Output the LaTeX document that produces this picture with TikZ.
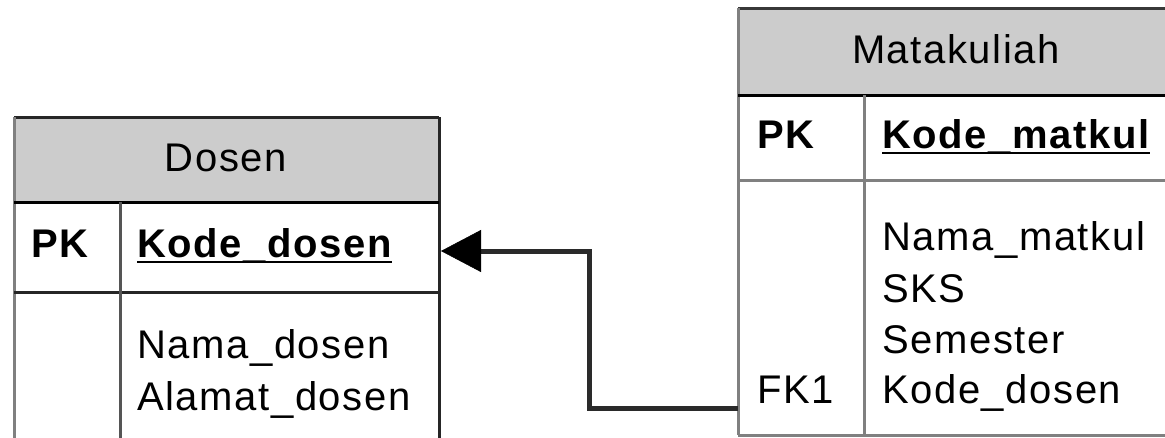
\documentclass[tikz,border=0pt]{standalone}
\usepackage{fontspec}
\setmainfont[LetterSpace=4]{Liberation Sans}
\usetikzlibrary{arrows.meta}
\definecolor{hdrfill}{HTML}{CCCCCC}
\definecolor{gline}{HTML}{808080}
\definecolor{dline}{HTML}{262626}
\definecolor{mline}{HTML}{555555}
\definecolor{connc}{HTML}{2A2A2A}
\begin{document}
\begin{tikzpicture}[x=1pt,y=-1pt,
  txt/.style={font=\fontsize{40}{48}\selectfont, inner sep=0pt, anchor=base west},
  btxt/.style={txt, font=\fontsize{40}{48}\selectfont\bfseries},
  htxt/.style={txt, anchor=base},
  hdr/.style={fill=hdrfill, draw=none, inner sep=0pt, anchor=north west},
  tline/.style={line width=3pt},
  conn/.style={line width=5pt, draw=connc, -{Triangle[length=40pt,width=42pt,color=black,fill=black,line width=0.5pt]}}]
\useasboundingbox (0,0) rectangle (1165,437);
\clip (0,0) rectangle (1165,437);
\fill[white] (0,0) rectangle (1165,437);

% ---------- Dosen table ----------
\node[hdr, minimum width=425pt, minimum height=85pt] (dosenH) at (14,117) {};
\node[htxt] (dosenT) at (226,171) {Dosen};
\coordinate (dTL) at (14,117);
\coordinate (dTR) at (439,117);
\coordinate (dBL) at (14,440);
\coordinate (dBR) at (439,440);
\draw[tline, dline] (dTL) -- (dTR);
\draw[tline, gline] (dTL) -- (dBL);
\draw[tline, dline] (dTR) -- (dBR);
\draw[tline, black] (14,202) -- (439,202);
\draw[tline, dline] (14,292) -- (439,292);
\draw[tline, mline] (120,202) -- (120,440);
\node[btxt] (dPK) at (31,257) {PK};
\node[btxt] (dKode) at (137,257) {Kode\_dosen};
\draw[line width=2pt] ([yshift=-5pt]dKode.base west) -- ([yshift=-5pt]dKode.base east);
\node[txt] (dNama) at (137,358) {Nama\_dosen};
\node[txt] (dAlamat) at (137,410) {Alamat\_dosen};

% ---------- Matakuliah table ----------
\node[hdr, minimum width=440pt, minimum height=87pt] (mkH) at (738,8) {};
\node[htxt] (mkT) at (956,63) {Matakuliah};
\coordinate (mTL) at (738,8);
\coordinate (mTR) at (1185,8);
\coordinate (mBL) at (738,435);
\coordinate (mBR) at (1185,435);
\draw[tline, dline!80!gline] (mTL) -- (mTR);
\draw[tline, gline] (mTL) -- (mBL);
\draw[tline, gline] (mBL) -- (mBR);
\draw[tline, black] (738,95) -- (1185,95);
\draw[tline, gline] (738,180) -- (1185,180);
\draw[tline, gline] (864,95) -- (864,435);
\node[btxt] (mPK) at (757,148) {PK};
\node[btxt] (mKode) at (882,148) {Kode\_matkul};
\draw[line width=2pt] ([yshift=-5pt]mKode.base west) -- ([yshift=-5pt]mKode.base east);
\node[txt] (mNama) at (882,250) {Nama\_matkul};
\node[txt] (mSKS) at (882,302) {SKS};
\node[txt] (mSem) at (882,353) {Semester};
\node[txt] (mFK) at (757,403) {FK1};
\node[txt] (mKd) at (882,403) {Kode\_dosen};

% ---------- connector ----------
\coordinate (cStart) at (738,408);
\coordinate (cEnd) at (441,251);
\draw[conn] (cStart) -- ++(-149,0) |- (cEnd);
\end{tikzpicture}
\end{document}
